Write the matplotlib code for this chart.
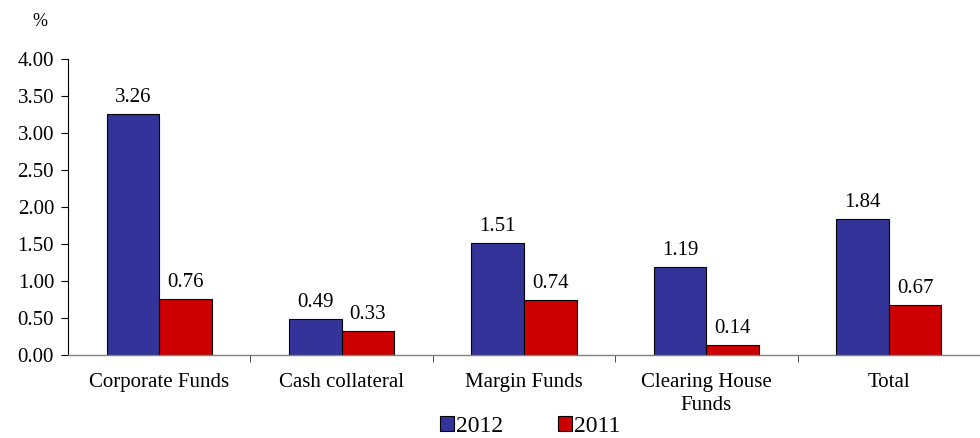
import matplotlib
matplotlib.use("Agg")
import matplotlib.pyplot as plt
import numpy as np

categories = ["Corporate Funds", "Cash collateral", "Margin Funds", "Clearing House\nFunds", "Total"]
values_2012 = [3.26, 0.49, 1.51, 1.19, 1.84]
values_2011 = [0.76, 0.33, 0.74, 0.14, 0.67]
series_names = ["2012", "2011"]
yticks = [0.0, 0.5, 1.0, 1.5, 2.0, 2.5, 3.0, 3.5, 4.0]

plt.rcParams['font.family'] = ['Liberation Serif', 'DejaVu Serif']
plt.rcParams['font.size'] = 15

fig = plt.figure(figsize=(9.8, 4.38), dpi=100)
ax = fig.add_axes([68/980, 1-355/438, 1-68/980, (355-59)/438])

x = np.arange(len(categories))
w = 0.288
blue = "#333399"
red = "#CC0000"
b1 = ax.bar(x - w/2, values_2012, w, color=blue, edgecolor="black", linewidth=0.8, label=series_names[0])
b2 = ax.bar(x + w/2, values_2011, w, color=red, edgecolor="black", linewidth=0.8, label=series_names[1])

for bars, vals in ((b1, values_2012), (b2, values_2011)):
    for r, v in zip(bars, vals):
        ax.annotate(f"{v:.2f}", (r.get_x() + r.get_width()/2, v), xytext=(0, 5),
                    textcoords="offset points", ha="center", va="bottom")

ax.set_xlim(-0.5, 4.46)
ax.set_ylim(0, 4)
ax.set_yticks(yticks)
ax.set_yticklabels([f"{t:.2f}" for t in yticks])
ax.set_xticks(x)
ax.set_xticklabels(categories, linespacing=1.3)
ax.set_xticks(np.arange(len(categories)) + 0.5, minor=True)
ax.tick_params(axis="x", which="major", length=0, pad=13)
ax.tick_params(axis="x", which="minor", length=5, direction="out", color="#303030")
ax.tick_params(axis="y", length=5, direction="out", pad=5)

for s in ("top", "right"):
    ax.spines[s].set_visible(False)
ax.spines["left"].set_color("black")
ax.spines["left"].set_linewidth(0.8)
ax.spines["bottom"].set_color("#808080")
ax.spines["bottom"].set_linewidth(1.0)

fig.text(40/980, 1-22/438, "%", ha="center", va="center", fontsize=13)

fig.legend(handles=[b1, b2], labels=series_names, loc="center", bbox_to_anchor=(530/980, 1-426/438),
           ncol=2, frameon=False, handlelength=0.6, handleheight=0.6, handletextpad=0.1,
           columnspacing=2.3, fontsize=17, borderpad=0)

fig.savefig("out.png", dpi=100)
